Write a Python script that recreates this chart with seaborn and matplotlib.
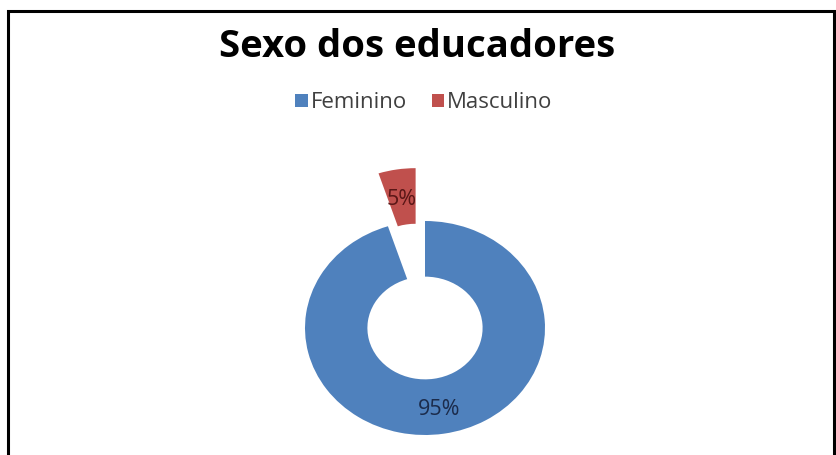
import matplotlib
matplotlib.use("Agg")
import matplotlib.pyplot as plt
import seaborn as sns
import numpy as np
from matplotlib.patches import Rectangle

categories = ["Feminino", "Masculino"]
values = [95, 5]
pct_labels = ["95%", "5%"]
title = "Sexo dos educadores"

sns.set_theme(style="white")
plt.rcParams['font.family'] = ['Open Sans', 'DejaVu Sans']

colors = ["#4F81BD", "#C0504D"]
label_colors = ["#1B2B4B", "#5A1616"]

W, H = 836, 455
fig = plt.figure(figsize=(W / 100, H / 100), dpi=100)

cx, cy = 425, 455 - 328
rx, ry = 120, 107
xl = (-1.6, 1.6)
yl = (-1.1, 1.75)
left = cx + xl[0] * rx
bottom = cy + yl[0] * ry
ax = fig.add_axes([left / W, bottom / H, (xl[1] - xl[0]) * rx / W, (yl[1] - yl[0]) * ry / H])

wedges, texts = ax.pie(values, colors=colors, startangle=90, counterclock=False,
                       explode=[0, 0.5], wedgeprops=dict(width=0.52, linewidth=0))
ax.set_aspect('auto')
ax.set_xlim(*xl)
ax.set_ylim(*yl)
ax.axis('off')

for w, lab, col, ex, rr in zip(wedges, pct_labels, label_colors, [0, 0.5], [0.77, 0.72]):
    ang = np.deg2rad((w.theta1 + w.theta2) / 2)
    r = ex + rr
    ax.text(r * np.cos(ang), r * np.sin(ang), lab, ha='center', va='center',
            fontsize=15.5, color=col)

fig.text(417 / W, 1 - 57 / H, title, ha='center', va='baseline',
         fontsize=27.5, fontweight='bold', color='black')

fig.legend(wedges, categories, loc='center', bbox_to_anchor=(424 / W, 1 - 103 / H),
           ncol=2, frameon=False, fontsize=16, handlelength=0.55, handleheight=0.55,
           handletextpad=0.15, columnspacing=1.1, labelcolor='#404040')

fig.patches.append(Rectangle((7.5 / W, -0.05), (834 - 7.5) / W, (455 - 11 + 0.05 * H) / H,
                             transform=fig.transFigure, fill=False, edgecolor='black',
                             linewidth=2.2, figure=fig))

fig.savefig("out.png", dpi=100, facecolor='white')
